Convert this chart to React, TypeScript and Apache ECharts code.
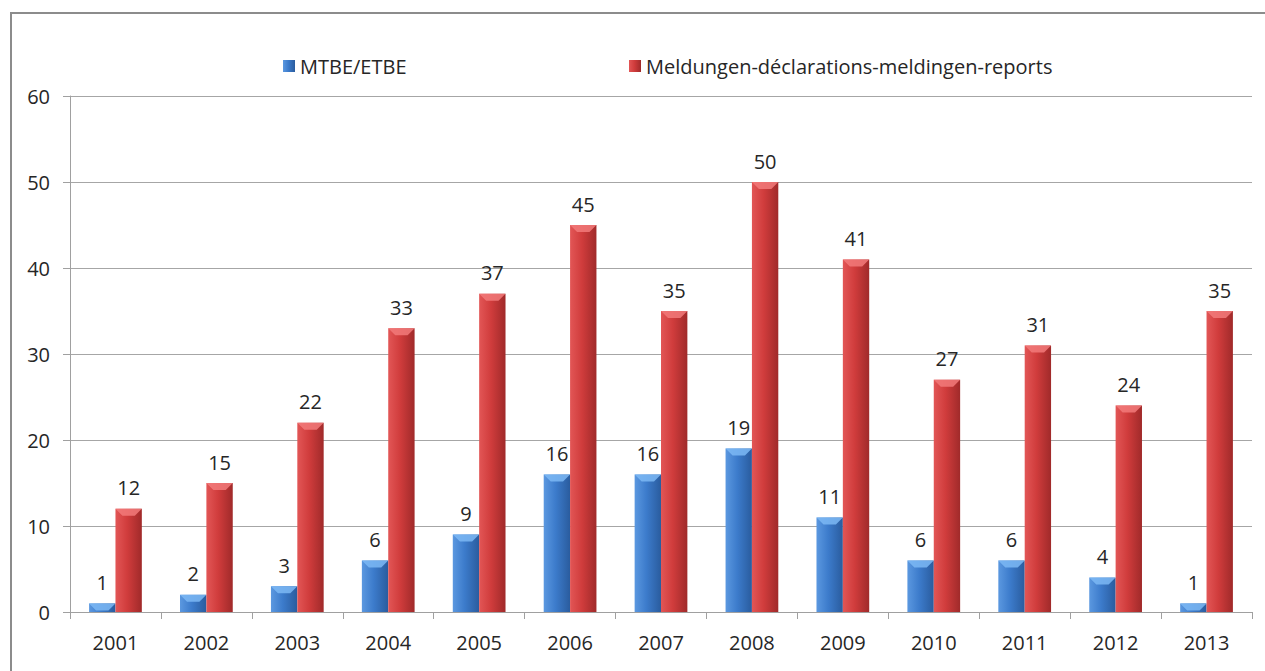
import React, { useEffect, useRef } from "react";
import * as echarts from "echarts";

const years = ["2001", "2002", "2003", "2004", "2005", "2006", "2007", "2008", "2009", "2010", "2011", "2012", "2013"];
const mtbe = [1, 2, 3, 6, 9, 16, 16, 19, 11, 6, 6, 4, 1];
const reports = [12, 15, 22, 33, 37, 45, 35, 50, 41, 27, 31, 24, 35];
const seriesNames = ["MTBE/ETBE", "Meldungen-déclarations-meldingen-reports"];

const FONT = "Open Sans";
const FS = 20;
const BAR_FRAC = 0.29;

const blueGrad = new echarts.graphic.LinearGradient(0, 0, 1, 0, [
  { offset: 0, color: "#5b98e0" },
  { offset: 0.45, color: "#3c7bcb" },
  { offset: 1, color: "#2a5c9e" },
]);
const redGrad = new echarts.graphic.LinearGradient(0, 0, 1, 0, [
  { offset: 0, color: "#e25656" },
  { offset: 0.45, color: "#d03c3c" },
  { offset: 1, color: "#a02a2a" },
]);

function bevel(s: number, light: string) {
  return (params: any, api: any) => {
    const c = api.coord([api.value(0), api.value(1)]);
    const base = api.coord([api.value(0), 0]);
    const catW = api.size([1, 0])[0];
    const bw = catW * BAR_FRAC;
    const x0 = c[0] - bw + s * bw;
    const x1 = x0 + bw;
    const top = c[1];
    const d = Math.min(7, base[1] - top);
    return {
      type: "polygon",
      shape: {
        points: [
          [x0, top],
          [x1, top],
          [x1 - 7, top + d],
          [x0 + 7, top + d],
        ],
      },
      style: { fill: light, opacity: 0.85 },
      silent: true,
    };
  };
}

export default function App() {
  const ref = useRef<HTMLDivElement>(null);
  useEffect(() => {
    document.body.style.margin = "0";
    const chart = echarts.init(ref.current!, undefined, { renderer: "svg" });
    const labelStyle = {
      show: true,
      position: "top" as const,
      distance: 11,
      fontFamily: FONT,
      fontSize: FS,
      color: "#262626",
    };
    const legendBase = {
      top: 56,
      itemWidth: 12,
      itemHeight: 12,
      itemGap: 0,
      padding: 0,
      icon: "rect",
      textStyle: { fontFamily: FONT, fontSize: FS, color: "#262626" },
    };
    chart.setOption({
      animation: false,
      backgroundColor: "#ffffff",
      textStyle: { fontFamily: FONT },
      graphic: [
        {
          type: "rect",
          shape: { x: 11, y: 13, width: 1300, height: 720 },
          style: { fill: "none", stroke: "#8c8c8c", lineWidth: 2 },
          silent: true,
          z: 100,
        },
      ],
      legend: [
        { ...legendBase, data: [seriesNames[0]], left: 283 },
        { ...legendBase, data: [seriesNames[1]], left: 629 },
      ],
      grid: { left: 70, right: 13, top: 96, bottom: 59, containLabel: false },
      xAxis: {
        type: "category",
        data: years,
        axisLine: { lineStyle: { color: "#a0a0a0", width: 1 } },
        axisTick: { show: true, length: 7, lineStyle: { color: "#a0a0a0" } },
        axisLabel: { fontFamily: FONT, fontSize: FS, color: "#262626", margin: 20 },
      },
      yAxis: {
        type: "value",
        min: 0,
        max: 60,
        interval: 10,
        axisLine: { show: true, lineStyle: { color: "#a0a0a0", width: 1 } },
        axisTick: { show: true, length: 7, lineStyle: { color: "#a0a0a0" } },
        axisLabel: { fontFamily: FONT, fontSize: FS, color: "#262626", margin: 20 },
        splitLine: { lineStyle: { color: "#a6a6a6", width: 1 } },
      },
      series: [
        {
          name: seriesNames[0],
          type: "bar",
          data: mtbe,
          barGap: "0%",
          barCategoryGap: "42%",
          itemStyle: { color: blueGrad },
          label: labelStyle,
        },
        {
          name: seriesNames[1],
          type: "bar",
          data: reports,
          barGap: "0%",
          barCategoryGap: "42%",
          itemStyle: { color: redGrad },
          label: labelStyle,
        },
        {
          type: "custom",
          name: "bevel-blue",
          data: mtbe.map((v, i) => [i, v]),
          renderItem: bevel(0, "#7db8f5"),
          z: 5,
          silent: true,
          tooltip: { show: false },
        },
        {
          type: "custom",
          name: "bevel-red",
          data: reports.map((v, i) => [i, v]),
          renderItem: bevel(1, "#f27a7a"),
          z: 5,
          silent: true,
          tooltip: { show: false },
        },
      ],
    });
    return () => chart.dispose();
  }, []);
  return <div ref={ref} style={{ width: 1265, height: 671 }} />;
}
